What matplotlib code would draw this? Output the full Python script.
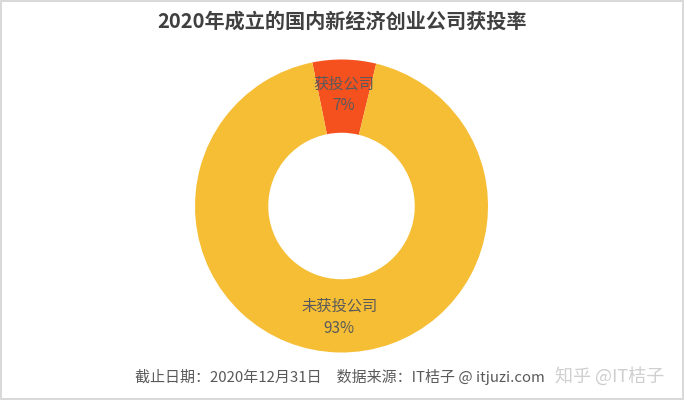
import matplotlib
matplotlib.use("Agg")
import matplotlib.pyplot as plt

plt.rcParams['font.family'] = ['Noto Sans CJK SC', 'DejaVu Sans']

# data
categories = ["获投公司", "未获投公司"]
shares = [7, 93]
colors = ["#F4511E", "#F6BE35"]

title = "2020年成立的国内新经济创业公司获投率"
footnote = "截止日期：2020年12月31日　数据来源：IT桔子 @ itjuzi.com"
watermark = "知乎 @IT桔子"


def Main():
    fig = plt.figure(figsize=(6.84, 4.0), dpi=100)
    fig.patch.set_facecolor("white")
    fig.patch.set_edgecolor("#d9d9d9")
    fig.patch.set_linewidth(1.5)

    ax = fig.add_axes([0.2851, 0.11875, 0.4284, 0.7325])

    names = iter(categories)
    wedges, texts, autotexts = ax.pie(
        shares,
        colors=colors,
        startangle=101.5,
        counterclock=False,
        radius=1.0,
        wedgeprops=dict(width=0.5, edgecolor="none"),
        autopct=lambda p: "%s\n%.0f%%" % (next(names), p),
        pctdistance=0.76,
        textprops=dict(color="#5a5a5a", fontsize=11, linespacing=1.4),
    )
    ax.set_xlim(-1, 1)
    ax.set_ylim(-1, 1)
    ax.set_aspect("equal")
    ax.axis("off")

    fig.text(0.5, 0.948, title, ha="center", va="center",
             fontsize=14.5, fontweight="bold", color="#404040")
    fig.text(0.197, 0.058, footnote, ha="left", va="center",
             fontsize=10.8, color="#595959")
    fig.text(0.812, 0.058, watermark, ha="left", va="center",
             fontsize=13, color="#cfcfcf")

    fig.savefig("out.png", dpi=100, facecolor=fig.get_facecolor(),
                edgecolor=fig.get_edgecolor())


Main()
